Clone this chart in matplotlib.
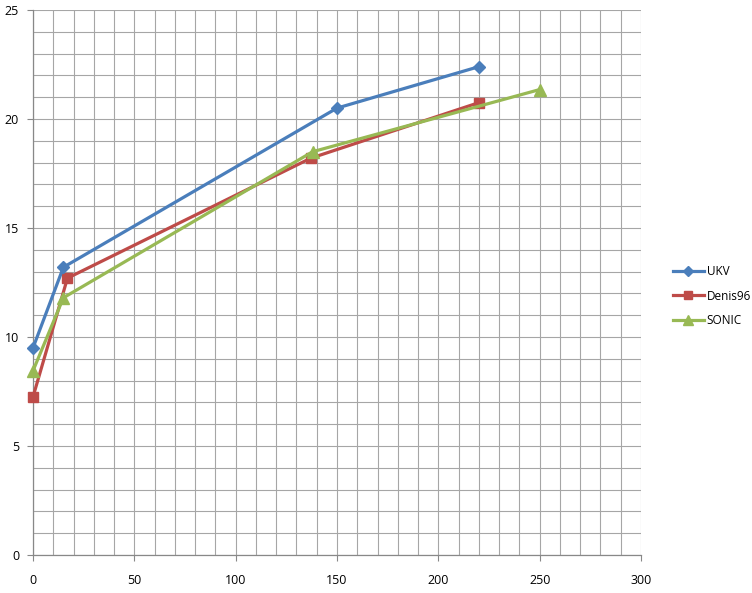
import matplotlib
matplotlib.use("Agg")
import matplotlib.pyplot as plt
from matplotlib.ticker import MultipleLocator

ukv_x = [0, 15, 150, 220]
ukv_y = [9.5, 13.2, 20.5, 22.4]
den_x = [0, 17, 137, 220]
den_y = [7.25, 12.7, 18.2, 20.75]
son_x = [0, 15, 138, 250]
son_y = [8.45, 11.8, 18.5, 21.35]
series_names = ["UKV", "Denis96", "SONIC"]
x_ticks = [0, 50, 100, 150, 200, 250, 300]
y_ticks = [0, 5, 10, 15, 20, 25]

plt.rcParams['font.family'] = ['Open Sans', 'DejaVu Sans']

fig = plt.figure(figsize=(7.52, 5.93), dpi=100)
ax = fig.add_axes([33/752, 1-555/593, (641-33)/752, (555-10)/593])

ax.plot(ukv_x, ukv_y, color='#4A7EBB', lw=2.3, marker='D', ms=6, label=series_names[0], zorder=5, clip_on=False)
ax.plot(den_x, den_y, color='#BE4B48', lw=2.3, marker='s', ms=7.5, label=series_names[1], zorder=4, clip_on=False)
ax.plot(son_x, son_y, color='#98B954', lw=2.3, marker='^', ms=8, label=series_names[2], zorder=6, clip_on=False)

ax.set_xlim(0, 300)
ax.set_ylim(0, 25)
ax.set_xticks(x_ticks)
ax.set_yticks(y_ticks)
ax.xaxis.set_minor_locator(MultipleLocator(10))
ax.yaxis.set_minor_locator(MultipleLocator(1))
ax.grid(which='both', color='#A6A6A6', lw=0.8, zorder=0)
ax.set_axisbelow(True)
for s in ['top', 'right']:
    ax.spines[s].set_visible(False)
for s in ['left', 'bottom']:
    ax.spines[s].set_color('#888888')
    ax.spines[s].set_linewidth(0.9)
ax.tick_params(which='major', length=4, color='#888888', labelsize=9, labelcolor='black')
ax.tick_params(which='minor', length=0)
ax.tick_params(axis='x', pad=10)
ax.tick_params(axis='y', pad=6)

leg = ax.legend(loc='center left', bbox_to_anchor=(1.035, 0.475), frameon=False,
                fontsize=8.5, handlelength=2.6, labelspacing=1.0, handletextpad=0.25,
                markerscale=0.85)

fig.savefig('out.png', dpi=100)
